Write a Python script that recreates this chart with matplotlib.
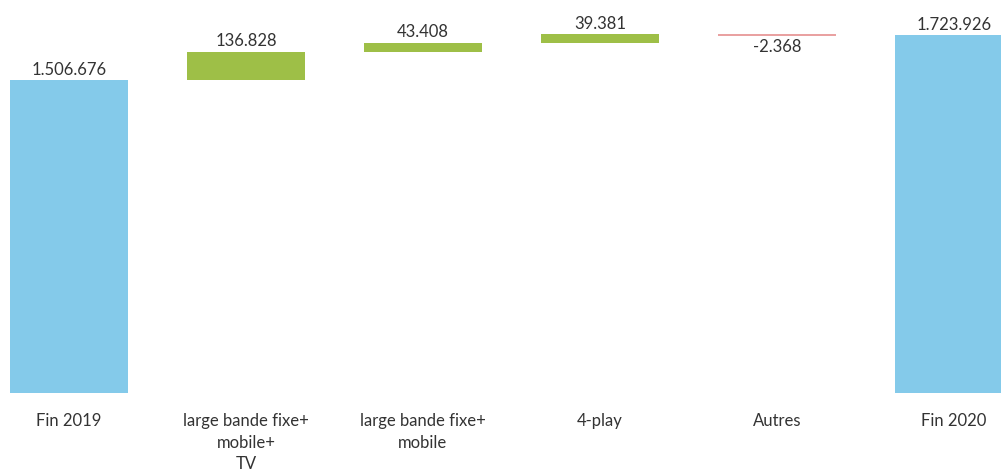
import matplotlib
matplotlib.use("Agg")
import matplotlib.pyplot as plt
import numpy as np

categories = ["Fin 2019", "large bande fixe+\nmobile+\nTV", "large bande fixe+\nmobile", "4-play", "Autres", "Fin 2020"]
values = [1506676, 136828, 43408, 39381, -2368, 1723926]
kinds = ["total", "delta", "delta", "delta", "delta", "total"]
value_labels = ["1.506.676", "136.828", "43.408", "39.381", "-2.368", "1.723.926"]

c_total = "#84CAEA"
c_up = "#9EBF47"
c_down = "#E9A1A1"
txt = "#333333"

plt.rcParams['font.family'] = ['Lato', 'DejaVu Sans']

fig = plt.figure(figsize=(10.01, 4.72), dpi=100)
ax = fig.add_axes([0, 1 - 393 / 472, 1, 393 / 472])

x = np.arange(len(categories))
running = 0
min_h = 9000
for i, (v, k) in enumerate(zip(values, kinds)):
    if k == "total":
        bottom, height, col = 0, v, c_total
        running = v
    else:
        if v >= 0:
            bottom, height, col = running, v, c_up
        else:
            bottom, height, col = running + v, -v, c_down
        running += v
    if k == "delta" and v < 0:
        h = max(height, min_h)
        ax.bar(x[i], h, bottom=bottom + height / 2 - h / 2, width=0.667, color=col, linewidth=0)
        ax.annotate(value_labels[i], (x[i], bottom), xytext=(0, -3), textcoords="offset points",
                    ha="center", va="top", fontsize=12, color=txt)
    else:
        ax.bar(x[i], height, bottom=bottom, width=0.667, color=col, linewidth=0)
        ax.annotate(value_labels[i], (x[i], bottom + height), xytext=(0, 1.5), textcoords="offset points",
                    ha="center", va="bottom", fontsize=12, color=txt)

ax.set_xlim(-0.39, 5.266)
ax.set_ylim(0, 1.8917e6)
ax.set_xticks(x)
ax.set_xticklabels(categories, fontsize=12, color=txt, linespacing=1.42)
ax.tick_params(axis="x", length=0, pad=14.5)
ax.set_yticks([])
for s in ax.spines.values():
    s.set_visible(False)

fig.savefig("out.png", dpi=100)
